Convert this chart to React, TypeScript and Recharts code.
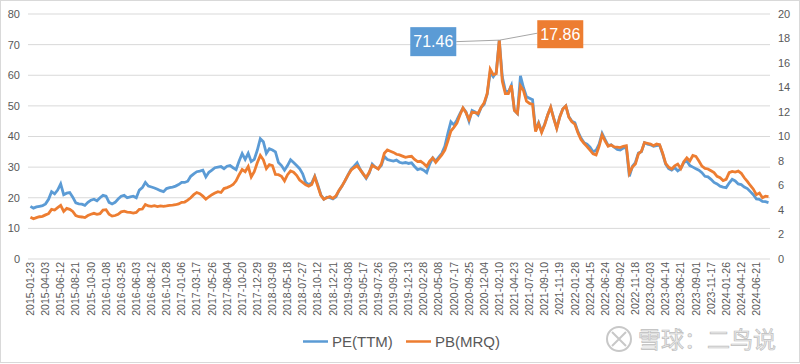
import React from 'react'
import { LineChart, Line, XAxis, YAxis, CartesianGrid, LabelList } from 'recharts'

// x-axis labels, one every 5 points (each point ~2 weeks)
const tickLabels = [
  '2015-01-23', '2015-04-03', '2015-06-12', '2015-08-21', '2015-10-30', '2016-01-08', '2016-03-25',
  '2016-06-03', '2016-08-12', '2016-10-28', '2017-01-06', '2017-03-17', '2017-05-26', '2017-08-04',
  '2017-10-20', '2017-12-29', '2018-03-09', '2018-05-18', '2018-07-27', '2018-10-12', '2018-12-21',
  '2019-03-08', '2019-05-17', '2019-07-26', '2019-09-30', '2019-12-13', '2020-02-28', '2020-05-08',
  '2020-07-17', '2020-09-25', '2020-12-04', '2021-02-10', '2021-04-23', '2021-07-02', '2021-09-10',
  '2021-11-19', '2022-01-28', '2022-04-15', '2022-06-24', '2022-09-02', '2022-11-18', '2023-02-03',
  '2023-04-14', '2023-06-21', '2023-09-01', '2023-11-17', '2024-01-26', '2024-04-12', '2024-06-21',
]

const pe = [
  17.2, 16.6, 17.0, 17.2, 17.4, 18.0, 19.5, 22.0, 21.3, 22.5,
  24.5, 21.0, 21.5, 21.7, 20.2, 18.3, 18.0, 17.9, 17.5, 18.5,
  19.2, 19.5, 19.0, 20.0, 20.8, 20.5, 18.5, 18.0, 18.5, 19.6,
  20.5, 20.8, 20.0, 20.3, 20.5, 20.0, 22.5, 23.3, 25.0, 23.8,
  23.5, 23.2, 22.8, 22.3, 22.0, 23.0, 23.3, 23.5, 23.8, 24.3,
  25.0, 25.0, 25.4, 27.0, 27.8, 28.5, 28.7, 29.0, 26.8, 28.3,
  29.0, 29.8, 30.0, 30.2, 29.5, 30.3, 30.5, 29.8, 29.2, 32.0,
  34.4, 32.5, 34.5, 31.8, 32.5, 35.5, 39.3, 38.3, 34.5, 36.0,
  35.6, 35.0, 31.5, 30.5, 29.0, 30.5, 32.4, 31.5, 30.5, 29.5,
  27.8, 25.0, 24.3, 24.8, 27.0, 24.2, 21.0, 19.5, 20.2, 20.0,
  19.6, 20.3, 22.3, 23.8, 25.5, 27.5, 29.3, 30.3, 31.4, 29.3,
  27.8, 26.3, 28.0, 31.0, 30.0, 29.5, 30.5, 33.5, 32.5, 32.2,
  32.0, 32.3, 31.6, 31.3, 31.5, 31.2, 31.4, 30.2, 29.2, 29.5,
  29.0, 28.2, 31.0, 33.0, 32.0, 33.3, 34.5, 36.8, 41.0, 44.8,
  43.8, 45.4, 47.5, 49.3, 48.0, 45.0, 48.5, 48.0, 47.0, 49.5,
  50.5, 53.8, 61.0, 59.5, 61.0, 71.46, 59.5, 55.0, 54.5, 56.7,
  48.5, 47.5, 59.8, 56.0, 53.0, 52.5, 52.0, 42.0, 44.5, 41.6,
  44.0, 47.0, 49.5, 46.0, 42.8, 46.5, 49.0, 50.0, 46.5, 45.0,
  44.5, 41.6, 39.5, 38.0, 37.5, 36.5, 35.0, 35.5, 37.5, 41.0,
  39.0, 37.0, 37.3, 36.5, 35.8, 35.6, 36.2, 36.5, 27.0, 30.2,
  31.5, 34.6, 35.0, 38.0, 37.5, 37.3, 36.8, 37.0, 37.2, 34.3,
  31.0, 29.5, 29.0, 29.8, 28.8, 29.5, 31.5, 32.0, 30.5, 30.0,
  29.5, 29.0, 28.2, 27.0, 26.8, 26.0, 25.0, 24.5, 23.8, 23.5,
  23.3, 24.8, 26.0, 25.5, 24.5, 24.3, 23.5, 23.0, 22.0, 21.0,
  19.6, 19.5, 18.8, 18.7, 18.4,
]

const pb = [
  3.40, 3.28, 3.38, 3.45, 3.48, 3.60, 3.70, 4.05, 4.00, 4.20,
  4.38, 3.88, 4.13, 4.05, 3.88, 3.55, 3.45, 3.43, 3.38, 3.55,
  3.65, 3.73, 3.65, 3.70, 4.00, 4.03, 3.65, 3.50, 3.55, 3.65,
  3.85, 3.90, 3.83, 3.80, 3.75, 3.80, 4.05, 4.08, 4.45, 4.33,
  4.30, 4.35, 4.28, 4.33, 4.30, 4.33, 4.38, 4.40, 4.43, 4.50,
  4.63, 4.65, 4.80, 5.00, 5.25, 5.43, 5.33, 5.13, 4.88, 5.08,
  5.25, 5.38, 5.50, 5.43, 5.75, 5.83, 5.93, 6.08, 6.38, 6.88,
  7.30, 7.13, 7.55, 6.70, 7.13, 7.85, 8.45, 8.10, 7.38, 7.70,
  7.63, 6.90, 6.88, 6.75, 6.38, 6.88, 7.18, 7.08, 6.83, 6.45,
  6.25, 6.05, 5.95, 6.08, 6.70, 5.95, 5.20, 4.88, 5.00, 5.10,
  4.95, 5.15, 5.60, 5.95, 6.40, 6.85, 7.25, 7.45, 7.60, 7.30,
  6.95, 6.65, 7.08, 7.65, 7.50, 7.35, 7.75, 8.63, 8.90, 8.80,
  8.70, 8.55, 8.50, 8.40, 8.30, 8.35, 8.38, 8.13, 7.95, 7.98,
  7.80, 7.55, 8.00, 8.25, 7.88, 8.20, 8.50, 8.88, 9.63, 10.45,
  10.75, 11.10, 11.75, 12.33, 11.95, 11.38, 12.00, 11.95, 11.88, 12.38,
  12.75, 13.50, 15.50, 15.05, 15.13, 17.86, 14.50, 13.50, 13.50, 14.18,
  12.13, 11.88, 14.13, 13.75, 12.88, 12.70, 12.63, 10.40, 11.05, 10.33,
  10.95, 11.75, 12.38, 11.45, 10.65, 11.58, 12.25, 12.50, 11.58, 11.20,
  11.00, 10.30, 9.75, 9.45, 9.18, 8.88, 8.58, 8.50, 9.20, 10.13,
  9.63, 9.20, 9.30, 9.15, 9.13, 9.10, 9.20, 9.25, 7.00, 7.50,
  7.75, 8.58, 8.80, 9.50, 9.45, 9.38, 9.25, 9.38, 9.33, 8.65,
  7.80, 7.50, 7.35, 7.60, 7.75, 7.38, 7.95, 8.25, 8.00, 8.45,
  8.38, 8.00, 7.58, 7.40, 7.35, 7.20, 7.05, 6.75, 6.63, 6.40,
  6.50, 7.05, 7.15, 7.10, 7.18, 7.00, 6.63, 6.33, 6.00, 5.70,
  5.25, 5.38, 5.00, 5.13, 5.10,
]

const peTicks = [0, 10, 20, 30, 40, 50, 60, 70, 80]
const pbTicks = [0, 2, 4, 6, 8, 10, 12, 14, 16, 18, 20]

const BLUE = '#5B9BD5'
const ORANGE = '#ED7D31'
const TEXT = '#595959'
const FONT = '"Liberation Sans", Arial, sans-serif'

const data = pe.map((v, i) => ({ i, pe: v, pb: pb[i] }))
const tickIdx = tickLabels.map((_, k) => k * 5)
const peMax = Math.max(...pe)
const pbMax = Math.max(...pb)

const DateTick = ({ x, y, payload }: any) => (
  <text
    x={x}
    y={y}
    transform={`rotate(-90 ${x} ${y})`}
    textAnchor="end"
    dy="0.35em"
    fontSize={10.5}
    fill={TEXT}
    fontFamily={FONT}
  >
    {tickLabels[payload.value / 5]}
  </text>
)

// data label boxes on the peak point
const PeTag = ({ x, y, value }: any) => {
  if (value !== peMax) return null
  return (
    <g>
      <line x1={x - 43} y1={y + 1.5} x2={x} y2={y} stroke="#a6a6a6" strokeWidth={1} />
      <rect x={x - 89} y={y - 13} width={46} height={29} fill={BLUE} />
      <text x={x - 66} y={y + 7} textAnchor="middle" fontSize={16} fill="#fff" fontFamily={FONT}>
        {value.toFixed(2)}
      </text>
    </g>
  )
}

const PbTag = ({ x, y, value }: any) => {
  if (value !== pbMax) return null
  return (
    <g>
      <line x1={x} y1={y} x2={x + 38} y2={y - 7} stroke="#a6a6a6" strokeWidth={1} />
      <rect x={x + 38} y={y - 20} width={46} height={28} fill={ORANGE} />
      <text x={x + 61} y={y} textAnchor="middle" fontSize={16} fill="#fff" fontFamily={FONT}>
        {value.toFixed(2)}
      </text>
    </g>
  )
}

export default function App() {
  return (
    <div style={{ position: 'absolute', left: 0, top: 0, width: 800, height: 364, background: '#fff' }}>
      <LineChart width={800} height={364} data={data} margin={{ top: 14, right: 0, bottom: 0, left: 0 }}>
        <CartesianGrid vertical={false} stroke="#d9d9d9" yAxisId="left" />
        <XAxis
          type="number"
          dataKey="i"
          domain={[-0.8, 244.5]}
          ticks={tickIdx}
          interval={0}
          tick={<DateTick />}
          tickSize={0}
          tickMargin={3}
          axisLine={false}
          tickLine={false}
          height={105}
        />
        <YAxis
          yAxisId="left"
          domain={[0, 80]}
          ticks={peTicks}
          width={28}
          axisLine={false}
          tickLine={false}
          tick={{ fontSize: 11, fill: TEXT, fontFamily: FONT }}
        />
        <YAxis
          yAxisId="right"
          orientation="right"
          domain={[0, 20]}
          ticks={pbTicks}
          width={30}
          axisLine={false}
          tickLine={false}
          tick={{ fontSize: 11, fill: TEXT, fontFamily: FONT, textAnchor: 'start' }}
        />
        <Line
          yAxisId="left"
          dataKey="pe"
          stroke={BLUE}
          strokeWidth={2.8}
          dot={false}
          type="linear"
          isAnimationActive={false}
        >
          <LabelList dataKey="pe" content={<PeTag />} />
        </Line>
        <Line
          yAxisId="right"
          dataKey="pb"
          stroke={ORANGE}
          strokeWidth={2.8}
          dot={false}
          type="linear"
          isAnimationActive={false}
        >
          <LabelList dataKey="pb" content={<PbTag />} />
        </Line>
      </LineChart>
      <svg
        width={800}
        height={364}
        style={{ position: 'absolute', left: 0, top: 0, pointerEvents: 'none' }}
      >
        <rect x={0.5} y={0.5} width={799} height={362} fill="none" stroke="#d9d9d9" />
        <line x1={303} y1={341.5} x2={328} y2={341.5} stroke={BLUE} strokeWidth={2.5} />
        <text x={332} y={347} fontSize={15} fill={TEXT} fontFamily={FONT}>PE(TTM)</text>
        <line x1={406} y1={341.5} x2={431} y2={341.5} stroke={ORANGE} strokeWidth={2.5} />
        <text x={435} y={347} fontSize={15} fill={TEXT} fontFamily={FONT}>PB(MRQ)</text>
        <circle cx={619} cy={339} r={12} fill="none" stroke="#c8c8c8" strokeWidth={2} />
        <path d="M612 332 L626 346 M626 332 L612 346" stroke="#c8c8c8" strokeWidth={2} fill="none" />
        <text
          x={638}
          y={348}
          fontSize={23}
          fill="#ececec"
          stroke="#bdbdbd"
          strokeWidth={0.7}
          fontFamily='"Noto Sans CJK SC", sans-serif'
        >
          雪球：二鸟说
        </text>
      </svg>
    </div>
  )
}
